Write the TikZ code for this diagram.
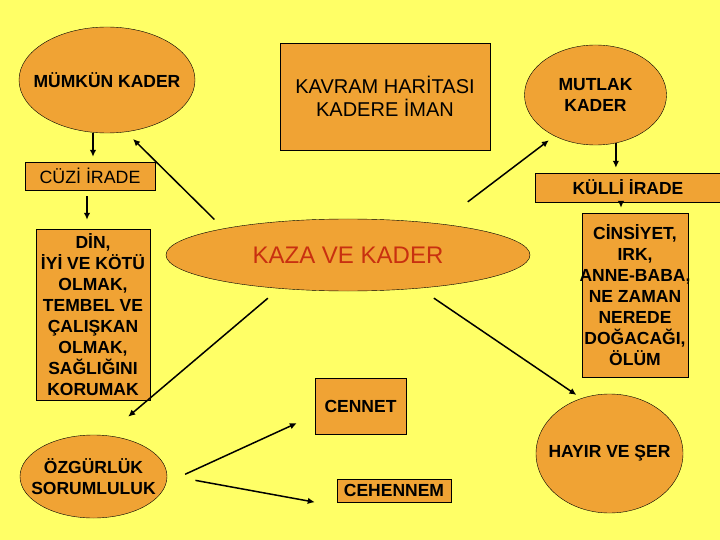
\documentclass[tikz,border=0pt]{standalone}
\usepackage{fontspec}
\setmainfont{Liberation Sans}
\usepackage{tikz}
\usetikzlibrary{shapes.geometric,arrows.meta}
\definecolor{zemin}{RGB}{255,255,102}
\definecolor{turuncu}{RGB}{240,163,52}
\definecolor{kirmizi}{RGB}{200,48,16}

\begin{document}
\begin{tikzpicture}[x=1pt,y=-1pt,>={Latex[length=7pt,width=6.5pt]},
  kutu/.style={draw,fill=turuncu,inner sep=0pt,align=center},
  elips/.style={ellipse,draw,fill=turuncu,inner xsep=-40pt,inner ysep=-20pt,align=center},
  kalin/.style={font=\bfseries\fontsize{17.5}{21}\selectfont},
  ince/.style={font=\fontsize{17.8}{21}\selectfont},
  ok/.style={->,line width=1.5pt}]
\fill[zemin] (0,0) rectangle (720,540);
\useasboundingbox (0,0) rectangle (720,540);
% sol sutun
\node[elips,kalin,minimum width=176,minimum height=106] (mumkun) at (107,80) {M\"UMK\"UN KADER};
\node[kutu,ince,minimum width=130,minimum height=28] (cuzi) at (90,176) {C\"UZ\.I \.IRADE};
\node[kutu,kalin,minimum width=114,minimum height=171] (din) at (93,314.5) {D\.IN,\\\.IY\.I VE K\"OT\"U\\OLMAK,\\TEMBEL VE\\\c{C}ALI\c{S}KAN\\OLMAK,\\SA\u{G}LI\u{G}INI\\KORUMAK};
\node[elips,kalin,minimum width=147,minimum height=83] (ozgur) at (93.5,476.5) {\"OZG\"URL\"UK\\SORUMLULUK};
% orta
\node[kutu,font=\fontsize{20}{23}\selectfont,minimum width=210,minimum height=107] (kavram) at (385,96.5) {KAVRAM HAR\.ITASI\\KADERE \.IMAN};
\node[elips,text=kirmizi,font=\fontsize{24}{28}\selectfont,minimum width=364,minimum height=72] (kaza) at (348,255) {KAZA VE KADER};
\node[kutu,kalin,minimum width=91,minimum height=56] (cennet) at (360.5,406) {CENNET};
\node[kutu,kalin,minimum width=114,minimum height=23] (cehennem) at (394,490.5) {CEHENNEM};
% sag sutun
\node[elips,kalin,minimum width=142,minimum height=100] (mutlak) at (595.5,95) {MUTLAK\\KADER};
\node[kutu,kalin,minimum width=186,minimum height=29] (kulli) at (628,187.5) {K\"ULL\.I \.IRADE};
\node[kutu,kalin,inner xsep=-5pt,minimum width=106,minimum height=164] (cins) at (635,295) {C\.INS\.IYET,\\IRK,\\ANNE-BABA,\\NE ZAMAN\\NEREDE\\DO\u{G}ACA\u{G}I,\\\"OL\"UM};
\node[elips,kalin,minimum width=147,minimum height=119] (hayir) at (609.5,453.5) {HAYIR VE \c{S}ER};
% oklar
\draw[ok,shorten >=5pt] (mumkun.south -| din) -- (cuzi.north -| din);
\draw[ok,shorten <=6pt,shorten >=9pt] ([xshift=-3pt]cuzi.south) -- ([xshift=-3pt]cuzi.south |- din.north);
\draw[ok,shorten >=5pt] (mutlak.-67) -- (mutlak.-67 |- kulli.north);
\draw[ok,shorten >=5pt] ([xshift=-7pt]kulli.south) -- ([xshift=-7pt]kulli.south |- cins.north);
\draw[ok,shorten <=13pt,shorten >=10pt] (kaza.168) -- (mumkun.-70);
\draw[ok,shorten <=36pt,shorten >=7pt] (kaza.19) -- (mutlak.-135);
\draw[ok,shorten <=15pt,shorten >=29pt] (kaza.-154) -- (ozgur.73);
\draw[ok,shorten <=17.5pt,shorten >=6pt] (kaza.-25) -- (hayir.117);
\draw[ok,shorten <=20.6pt,shorten >=19.8pt] (ozgur.-5) -- (cennet.-169);
\draw[ok,shorten <=28.7pt,shorten >=22.4pt] (ozgur.1) -- ([yshift=-4pt]cehennem.south west);
\end{tikzpicture}
\end{document}
